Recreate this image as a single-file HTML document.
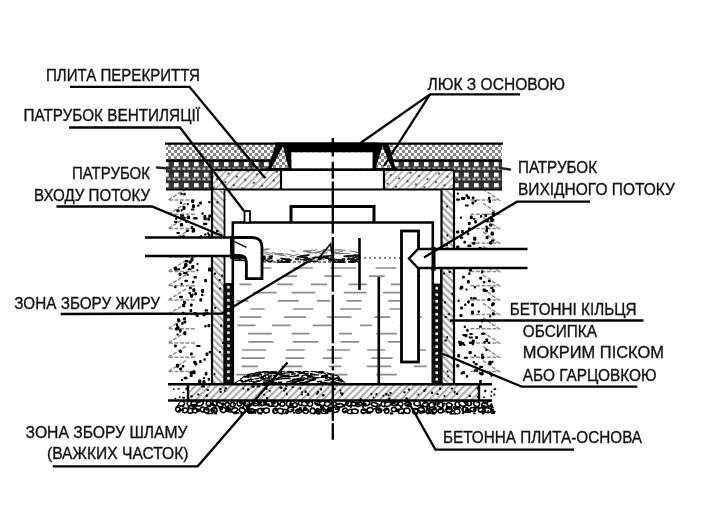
<!DOCTYPE html>
<html><head><meta charset="utf-8"><style>html,body{margin:0;padding:0;background:#fff;width:704px;height:528px;overflow:hidden}svg{display:block}text{filter:grayscale(1)}</style></head>
<body><svg width="704" height="528" viewBox="0 0 704 528"><defs>
<pattern id="chk" width="6" height="6" patternUnits="userSpaceOnUse">
 <rect width="6" height="6" fill="#fff"/><rect width="3" height="3" fill="#858585"/><rect x="3" y="3" width="3" height="3" fill="#858585"/>
</pattern>
<pattern id="hatchA" width="5" height="5" patternUnits="userSpaceOnUse" patternTransform="rotate(45)">
 <rect width="5" height="5" fill="#fff"/><rect width="1.6" height="5" fill="#a8a8a8"/>
</pattern>
<pattern id="hatchB" width="5" height="5" patternUnits="userSpaceOnUse" patternTransform="rotate(-45)">
 <rect width="5" height="5" fill="#fff"/><rect width="2.3" height="5" fill="#a8a8a8"/>
</pattern>
<pattern id="hatchC" width="5" height="5" patternUnits="userSpaceOnUse" patternTransform="rotate(45)">
 <rect width="5" height="5" fill="#fff"/><rect width="2.2" height="5" fill="#adadad"/>
</pattern>
<pattern id="dk" width="10" height="10.5" patternUnits="userSpaceOnUse" patternTransform="translate(2,160.3)">
 <rect width="10" height="10.5" fill="#383838"/><rect x="0" y="0" width="10" height="1.5" fill="#222"/><rect x="2" y="1.8" width="4.6" height="4.2" fill="#fff"/><rect x="0.5" y="7.2" width="3" height="2.4" fill="#bbb"/><rect x="5.5" y="7.2" width="3" height="2.4" fill="#bbb"/>
</pattern>
<pattern id="stripL" width="10" height="6.5" patternUnits="userSpaceOnUse" patternTransform="translate(0,284)">
 <rect width="10" height="6.5" fill="#111"/><rect x="7.2" y="2" width="2.5" height="2.5" fill="#fff"/>
</pattern>
<pattern id="stripR" width="10" height="6.5" patternUnits="userSpaceOnUse" patternTransform="translate(0,285)">
 <rect width="10" height="6.5" fill="#111"/><rect x="5.5" y="2" width="2.5" height="2.5" fill="#fff"/>
</pattern>
<pattern id="dotgrid" width="9" height="9" patternUnits="userSpaceOnUse" patternTransform="rotate(20)">
 <circle cx="4" cy="4" r="1" fill="#222"/>
</pattern>
</defs><rect width="704" height="528" fill="#fff"/><path d="M186.0 189.0L168.0 200.0L196.0 200.0M186.0 203.3L168.0 214.3L196.0 214.3M186.0 217.6L168.0 228.6L196.0 228.6M186.0 231.9L168.0 242.9L196.0 242.9M186.0 246.2L168.0 257.2L196.0 257.2M186.0 260.5L168.0 271.5L196.0 271.5M186.0 274.8L168.0 285.8L196.0 285.8M186.0 289.1L168.0 300.1L196.0 300.1M186.0 303.4L168.0 314.4L196.0 314.4M186.0 317.7L168.0 328.7L196.0 328.7M186.0 332.0L168.0 343.0L196.0 343.0M186.0 346.3L168.0 357.3L196.0 357.3M186.0 360.6L168.0 371.6L196.0 371.6" fill="none" stroke="#8c8c8c" stroke-width="1.5" stroke-dasharray="4 1.5"/><g fill="#000"><rect x="185.3" y="220.8" width="2.1" height="2.3" rx="0.7"/><rect x="186.8" y="203.1" width="2.1" height="2.2" rx="0.7"/><rect x="176.4" y="209.3" width="3.2" height="3.0" rx="1.0"/><rect x="181.8" y="311.8" width="2.8" height="3.0" rx="1.0"/><rect x="208.2" y="200.9" width="2.4" height="2.3" rx="0.8"/><rect x="178.1" y="250.9" width="2.3" height="2.6" rx="0.8"/><rect x="196.4" y="263.1" width="2.1" height="1.9" rx="0.7"/><rect x="181.2" y="322.0" width="2.4" height="2.8" rx="0.9"/><rect x="189.9" y="249.3" width="3.0" height="3.0" rx="1.0"/><rect x="194.1" y="292.3" width="3.0" height="3.1" rx="1.1"/><rect x="208.3" y="214.6" width="3.1" height="2.9" rx="1.0"/><rect x="191.1" y="199.5" width="3.1" height="3.5" rx="1.1"/><rect x="204.6" y="251.9" width="2.8" height="3.2" rx="1.0"/><rect x="190.0" y="352.4" width="2.7" height="3.1" rx="0.9"/><rect x="176.1" y="326.0" width="3.4" height="4.2" rx="1.2"/><rect x="184.0" y="265.7" width="2.0" height="2.2" rx="0.7"/><rect x="179.9" y="214.4" width="4.2" height="2.1" rx="0.7"/><rect x="182.7" y="266.7" width="2.1" height="2.3" rx="0.7"/><rect x="193.2" y="360.7" width="3.2" height="3.2" rx="1.1"/><rect x="188.5" y="260.5" width="3.3" height="3.2" rx="1.1"/><rect x="180.2" y="236.3" width="2.7" height="3.0" rx="0.9"/><rect x="183.2" y="192.8" width="2.5" height="2.8" rx="0.9"/><rect x="207.4" y="323.9" width="2.9" height="3.4" rx="1.0"/><rect x="175.9" y="363.8" width="3.2" height="3.9" rx="1.1"/><rect x="187.7" y="268.2" width="4.0" height="2.0" rx="0.7"/><rect x="176.4" y="231.9" width="3.5" height="2.0" rx="0.7"/><rect x="174.0" y="220.9" width="3.5" height="2.0" rx="0.7"/><rect x="204.6" y="309.3" width="3.4" height="2.2" rx="0.8"/><rect x="186.7" y="215.5" width="3.4" height="3.7" rx="1.2"/><rect x="190.9" y="208.4" width="3.5" height="2.2" rx="0.8"/><rect x="203.0" y="222.8" width="4.4" height="2.3" rx="0.8"/><rect x="179.1" y="295.7" width="3.8" height="2.6" rx="0.9"/><rect x="204.2" y="325.0" width="2.5" height="2.4" rx="0.9"/><rect x="201.0" y="293.7" width="2.5" height="2.4" rx="0.9"/><rect x="202.4" y="380.1" width="3.1" height="3.8" rx="1.1"/><rect x="199.9" y="235.3" width="2.5" height="2.3" rx="0.8"/><rect x="175.0" y="245.4" width="3.0" height="3.8" rx="1.0"/><rect x="189.7" y="371.0" width="3.3" height="3.5" rx="1.2"/><rect x="181.7" y="235.3" width="3.3" height="2.4" rx="0.8"/><rect x="205.5" y="352.5" width="2.9" height="3.6" rx="1.0"/><rect x="177.0" y="318.2" width="3.1" height="3.7" rx="1.1"/><rect x="190.7" y="226.1" width="2.5" height="3.0" rx="0.9"/><rect x="208.0" y="267.6" width="3.3" height="4.0" rx="1.2"/><rect x="180.0" y="216.3" width="4.4" height="2.5" rx="0.9"/><rect x="179.1" y="349.9" width="2.9" height="3.0" rx="1.0"/><rect x="193.2" y="217.0" width="4.5" height="2.4" rx="0.8"/><rect x="192.4" y="370.3" width="3.2" height="4.0" rx="1.1"/><rect x="181.4" y="240.1" width="2.3" height="2.7" rx="0.8"/><rect x="183.1" y="272.0" width="4.4" height="2.2" rx="0.8"/><rect x="190.0" y="303.4" width="2.6" height="3.3" rx="0.9"/><rect x="191.6" y="293.6" width="2.0" height="2.2" rx="0.7"/><rect x="180.4" y="192.8" width="2.2" height="2.4" rx="0.8"/><rect x="199.4" y="298.3" width="2.7" height="3.1" rx="1.0"/><rect x="201.4" y="212.3" width="2.3" height="2.4" rx="0.8"/><rect x="201.0" y="289.0" width="3.1" height="3.9" rx="1.1"/><rect x="189.5" y="309.0" width="2.7" height="3.2" rx="1.0"/><rect x="189.8" y="293.9" width="3.3" height="3.9" rx="1.2"/><rect x="204.7" y="372.0" width="2.8" height="3.6" rx="1.0"/><rect x="203.4" y="218.2" width="3.7" height="2.0" rx="0.7"/><rect x="182.4" y="206.0" width="3.1" height="3.9" rx="1.1"/><rect x="179.4" y="328.8" width="2.2" height="2.8" rx="0.8"/><rect x="207.9" y="233.9" width="2.6" height="2.8" rx="0.9"/><rect x="208.6" y="351.0" width="3.6" height="2.3" rx="0.8"/><rect x="185.9" y="229.4" width="3.0" height="2.7" rx="1.0"/><rect x="193.4" y="276.1" width="3.5" height="2.4" rx="0.8"/><rect x="191.9" y="204.3" width="3.1" height="4.0" rx="1.1"/><rect x="177.7" y="242.7" width="4.2" height="2.2" rx="0.8"/><rect x="178.5" y="272.7" width="3.1" height="3.2" rx="1.1"/><rect x="179.2" y="367.6" width="3.0" height="2.8" rx="1.0"/><rect x="176.0" y="323.4" width="2.1" height="2.7" rx="0.7"/><rect x="196.2" y="345.1" width="4.3" height="2.0" rx="0.7"/><rect x="204.2" y="278.7" width="2.8" height="3.5" rx="1.0"/><rect x="183.4" y="216.7" width="2.3" height="2.2" rx="0.8"/><rect x="179.7" y="201.6" width="2.4" height="2.5" rx="0.9"/><rect x="200.6" y="247.4" width="2.2" height="2.3" rx="0.8"/><rect x="174.6" y="239.8" width="4.1" height="2.3" rx="0.8"/><rect x="180.6" y="282.7" width="2.1" height="2.6" rx="0.8"/><rect x="189.1" y="286.5" width="2.6" height="2.8" rx="0.9"/><rect x="198.1" y="379.6" width="3.2" height="3.7" rx="1.1"/><rect x="196.3" y="269.3" width="2.1" height="2.0" rx="0.7"/><rect x="176.5" y="333.5" width="2.2" height="2.1" rx="0.7"/><rect x="203.4" y="358.3" width="2.4" height="2.4" rx="0.8"/><rect x="184.3" y="279.8" width="3.7" height="2.2" rx="0.8"/><rect x="207.7" y="377.8" width="2.3" height="3.0" rx="0.8"/><rect x="184.8" y="260.1" width="3.6" height="2.3" rx="0.8"/><rect x="191.6" y="230.4" width="2.0" height="2.0" rx="0.7"/><rect x="177.1" y="268.3" width="3.0" height="2.2" rx="0.8"/><rect x="182.1" y="303.8" width="3.1" height="3.5" rx="1.1"/><rect x="199.1" y="359.9" width="2.5" height="3.2" rx="0.9"/><rect x="179.2" y="330.3" width="2.1" height="2.5" rx="0.7"/><rect x="205.2" y="311.8" width="3.1" height="3.0" rx="1.0"/><rect x="192.3" y="288.3" width="3.1" height="3.8" rx="1.1"/><rect x="194.4" y="362.5" width="3.0" height="2.9" rx="1.0"/><rect x="175.1" y="217.4" width="2.1" height="2.6" rx="0.8"/><rect x="193.5" y="311.9" width="3.0" height="3.2" rx="1.0"/><rect x="174.1" y="344.4" width="2.7" height="3.0" rx="0.9"/><rect x="197.1" y="204.6" width="2.4" height="2.2" rx="0.8"/><rect x="183.3" y="331.3" width="3.0" height="3.9" rx="1.1"/><rect x="191.3" y="265.1" width="3.0" height="3.6" rx="1.0"/><rect x="195.6" y="314.8" width="3.2" height="2.2" rx="0.8"/><rect x="200.0" y="250.1" width="2.0" height="1.9" rx="0.7"/><rect x="183.4" y="320.4" width="2.9" height="3.0" rx="1.0"/><rect x="192.1" y="280.8" width="2.2" height="2.7" rx="0.8"/><rect x="181.0" y="378.8" width="2.0" height="2.2" rx="0.7"/><rect x="202.7" y="376.9" width="2.4" height="2.3" rx="0.8"/><rect x="207.1" y="232.2" width="2.2" height="2.4" rx="0.8"/><rect x="207.3" y="217.3" width="2.7" height="3.4" rx="0.9"/><rect x="198.6" y="236.2" width="2.7" height="2.4" rx="0.9"/><rect x="174.1" y="285.9" width="2.4" height="2.3" rx="0.8"/><rect x="186.0" y="252.4" width="2.0" height="2.4" rx="0.7"/><rect x="203.4" y="214.9" width="3.0" height="3.8" rx="1.0"/><rect x="184.1" y="263.1" width="3.4" height="3.9" rx="1.2"/><rect x="186.6" y="273.8" width="2.1" height="1.9" rx="0.7"/><rect x="203.2" y="246.6" width="2.3" height="2.4" rx="0.8"/><rect x="191.9" y="228.3" width="3.3" height="4.2" rx="1.2"/><rect x="202.4" y="312.5" width="3.3" height="3.7" rx="1.2"/><rect x="199.2" y="201.4" width="2.6" height="3.2" rx="0.9"/><rect x="196.6" y="246.7" width="4.4" height="2.1" rx="0.7"/><rect x="190.5" y="257.6" width="3.0" height="3.9" rx="1.1"/><rect x="183.1" y="317.3" width="2.8" height="2.9" rx="1.0"/><rect x="179.9" y="222.9" width="3.3" height="3.6" rx="1.1"/><rect x="181.7" y="365.1" width="2.6" height="2.5" rx="0.9"/><rect x="180.7" y="209.3" width="2.1" height="2.1" rx="0.7"/><rect x="183.0" y="300.8" width="3.0" height="3.2" rx="1.1"/><rect x="188.5" y="292.1" width="2.5" height="2.3" rx="0.8"/><rect x="183.7" y="376.8" width="3.8" height="2.4" rx="0.8"/><rect x="204.2" y="233.2" width="2.3" height="2.5" rx="0.8"/><rect x="189.6" y="374.2" width="3.2" height="2.9" rx="1.0"/><rect x="175.1" y="327.5" width="2.7" height="3.0" rx="0.9"/><rect x="174.0" y="266.8" width="3.2" height="3.9" rx="1.1"/></g><path d="M483.0 189.0L499.0 200.0L469.0 200.0M483.0 203.3L499.0 214.3L469.0 214.3M483.0 217.6L499.0 228.6L469.0 228.6M483.0 231.9L499.0 242.9L469.0 242.9M483.0 246.2L499.0 257.2L469.0 257.2M483.0 260.5L499.0 271.5L469.0 271.5M483.0 274.8L499.0 285.8L469.0 285.8M483.0 289.1L499.0 300.1L469.0 300.1M483.0 303.4L499.0 314.4L469.0 314.4M483.0 317.7L499.0 328.7L469.0 328.7M483.0 332.0L499.0 343.0L469.0 343.0M483.0 346.3L499.0 357.3L469.0 357.3M483.0 360.6L499.0 371.6L469.0 371.6" fill="none" stroke="#8c8c8c" stroke-width="1.5" stroke-dasharray="4 1.5"/><g fill="#000"><rect x="491.0" y="239.5" width="3.2" height="2.3" rx="0.8"/><rect x="480.6" y="371.8" width="2.9" height="3.5" rx="1.0"/><rect x="472.5" y="297.3" width="4.2" height="2.1" rx="0.7"/><rect x="489.1" y="315.3" width="2.2" height="2.2" rx="0.8"/><rect x="478.9" y="325.4" width="3.1" height="2.3" rx="0.8"/><rect x="477.0" y="266.1" width="2.8" height="2.6" rx="0.9"/><rect x="466.9" y="280.0" width="2.9" height="3.6" rx="1.0"/><rect x="473.1" y="236.8" width="3.3" height="4.0" rx="1.2"/><rect x="467.1" y="196.2" width="2.9" height="3.1" rx="1.0"/><rect x="465.3" y="319.5" width="2.3" height="2.1" rx="0.7"/><rect x="468.2" y="272.3" width="2.3" height="2.8" rx="0.8"/><rect x="482.6" y="288.4" width="3.4" height="3.4" rx="1.2"/><rect x="485.5" y="236.1" width="3.1" height="3.1" rx="1.1"/><rect x="490.3" y="286.7" width="3.3" height="2.3" rx="0.8"/><rect x="480.0" y="373.2" width="3.6" height="2.1" rx="0.7"/><rect x="491.1" y="219.1" width="3.1" height="2.2" rx="0.8"/><rect x="488.3" y="360.8" width="3.4" height="4.3" rx="1.2"/><rect x="467.9" y="227.4" width="3.0" height="2.8" rx="1.0"/><rect x="479.9" y="264.3" width="2.5" height="2.4" rx="0.8"/><rect x="456.1" y="245.4" width="3.3" height="3.2" rx="1.1"/><rect x="490.7" y="231.6" width="3.2" height="3.9" rx="1.1"/><rect x="471.6" y="201.4" width="2.5" height="3.2" rx="0.9"/><rect x="462.9" y="261.6" width="2.0" height="2.2" rx="0.7"/><rect x="485.2" y="338.4" width="3.1" height="2.0" rx="0.7"/><rect x="489.1" y="241.1" width="3.3" height="3.4" rx="1.1"/><rect x="465.8" y="374.9" width="2.4" height="2.8" rx="0.8"/><rect x="467.4" y="244.6" width="4.1" height="2.5" rx="0.9"/><rect x="478.8" y="372.2" width="3.4" height="2.3" rx="0.8"/><rect x="490.4" y="374.2" width="2.4" height="2.5" rx="0.8"/><rect x="473.8" y="369.3" width="4.2" height="2.4" rx="0.9"/><rect x="485.6" y="339.6" width="2.5" height="2.5" rx="0.9"/><rect x="469.0" y="341.4" width="3.3" height="2.5" rx="0.9"/><rect x="464.9" y="204.4" width="3.8" height="2.2" rx="0.8"/><rect x="491.3" y="360.7" width="2.4" height="2.2" rx="0.8"/><rect x="459.5" y="287.2" width="2.6" height="2.6" rx="0.9"/><rect x="471.0" y="310.5" width="3.0" height="3.8" rx="1.1"/><rect x="479.9" y="215.1" width="2.4" height="2.7" rx="0.8"/><rect x="469.4" y="333.0" width="3.4" height="2.1" rx="0.8"/><rect x="461.5" y="360.9" width="2.5" height="2.6" rx="0.9"/><rect x="491.7" y="288.9" width="3.1" height="3.6" rx="1.1"/><rect x="491.7" y="211.5" width="3.1" height="3.9" rx="1.1"/><rect x="488.9" y="199.7" width="2.2" height="2.1" rx="0.7"/><rect x="491.0" y="303.4" width="2.5" height="3.1" rx="0.9"/><rect x="472.2" y="241.7" width="3.3" height="3.1" rx="1.1"/><rect x="477.5" y="310.4" width="2.5" height="2.4" rx="0.8"/><rect x="463.3" y="240.7" width="2.9" height="2.9" rx="1.0"/><rect x="456.4" y="254.5" width="2.3" height="2.3" rx="0.8"/><rect x="463.3" y="343.9" width="2.1" height="2.0" rx="0.7"/><rect x="470.2" y="297.1" width="2.1" height="2.1" rx="0.7"/><rect x="481.0" y="270.3" width="2.4" height="3.1" rx="0.9"/><rect x="467.2" y="300.2" width="2.6" height="3.2" rx="0.9"/><rect x="491.9" y="261.5" width="4.1" height="2.1" rx="0.7"/><rect x="456.2" y="364.2" width="3.1" height="3.3" rx="1.1"/><rect x="487.8" y="280.0" width="3.0" height="2.3" rx="0.8"/><rect x="479.1" y="365.8" width="3.9" height="2.2" rx="0.8"/><rect x="474.2" y="219.9" width="2.7" height="3.5" rx="1.0"/><rect x="459.9" y="285.7" width="3.4" height="3.3" rx="1.1"/><rect x="460.6" y="372.1" width="2.7" height="2.5" rx="0.9"/><rect x="489.3" y="266.1" width="2.9" height="3.5" rx="1.0"/><rect x="461.8" y="342.1" width="2.6" height="3.2" rx="0.9"/><rect x="485.9" y="226.9" width="2.6" height="2.8" rx="0.9"/><rect x="469.8" y="215.5" width="3.0" height="3.8" rx="1.1"/><rect x="457.5" y="299.4" width="2.1" height="2.5" rx="0.7"/><rect x="460.2" y="306.5" width="2.9" height="2.9" rx="1.0"/><rect x="471.1" y="303.3" width="2.9" height="3.2" rx="1.0"/><rect x="471.8" y="196.5" width="2.7" height="2.7" rx="0.9"/><rect x="483.5" y="341.0" width="2.3" height="2.5" rx="0.8"/><rect x="459.9" y="216.5" width="2.1" height="2.3" rx="0.7"/><rect x="474.4" y="199.8" width="2.1" height="2.5" rx="0.7"/><rect x="484.0" y="289.7" width="3.8" height="2.2" rx="0.8"/><rect x="490.2" y="218.0" width="3.4" height="4.0" rx="1.2"/><rect x="485.3" y="229.0" width="2.7" height="3.4" rx="0.9"/><rect x="489.0" y="223.5" width="3.3" height="3.1" rx="1.1"/><rect x="468.6" y="336.4" width="4.3" height="2.2" rx="0.8"/><rect x="485.4" y="219.4" width="3.3" height="3.2" rx="1.1"/><rect x="465.5" y="288.6" width="2.1" height="2.0" rx="0.7"/><rect x="461.8" y="370.9" width="3.3" height="3.1" rx="1.1"/><rect x="484.3" y="214.0" width="2.9" height="3.0" rx="1.0"/><rect x="487.4" y="298.0" width="3.2" height="3.0" rx="1.1"/><rect x="491.7" y="312.3" width="3.1" height="3.1" rx="1.1"/><rect x="491.7" y="302.3" width="3.1" height="3.3" rx="1.1"/><rect x="462.4" y="334.0" width="4.2" height="2.2" rx="0.8"/><rect x="479.0" y="380.0" width="2.9" height="3.0" rx="1.0"/><rect x="456.1" y="198.5" width="3.9" height="2.3" rx="0.8"/><rect x="474.5" y="363.0" width="3.3" height="2.4" rx="0.8"/><rect x="456.8" y="192.5" width="2.1" height="2.2" rx="0.8"/><rect x="464.1" y="303.5" width="2.3" height="2.6" rx="0.8"/><rect x="473.1" y="217.7" width="2.3" height="2.2" rx="0.8"/><rect x="459.4" y="313.9" width="3.1" height="3.3" rx="1.1"/><rect x="465.5" y="194.2" width="2.8" height="2.9" rx="1.0"/><rect x="479.2" y="276.8" width="3.0" height="3.0" rx="1.1"/><rect x="488.5" y="200.4" width="2.6" height="2.6" rx="0.9"/><rect x="458.1" y="340.8" width="3.8" height="2.6" rx="0.9"/><rect x="461.1" y="230.1" width="2.7" height="3.1" rx="0.9"/><rect x="485.3" y="225.4" width="2.4" height="2.2" rx="0.8"/><rect x="488.0" y="341.5" width="2.0" height="2.5" rx="0.7"/><rect x="482.8" y="280.9" width="2.6" height="2.6" rx="0.9"/><rect x="459.8" y="236.4" width="3.5" height="2.4" rx="0.9"/><rect x="481.0" y="353.5" width="2.4" height="2.7" rx="0.8"/><rect x="471.7" y="342.6" width="2.4" height="2.7" rx="0.8"/><rect x="490.7" y="233.4" width="2.0" height="2.0" rx="0.7"/><rect x="464.5" y="334.1" width="3.0" height="3.1" rx="1.1"/><rect x="487.7" y="254.8" width="3.3" height="3.8" rx="1.1"/><rect x="480.9" y="319.1" width="2.7" height="3.3" rx="0.9"/><rect x="481.1" y="355.8" width="3.0" height="3.4" rx="1.1"/><rect x="467.1" y="232.5" width="2.1" height="2.7" rx="0.7"/><rect x="461.2" y="197.1" width="4.4" height="2.2" rx="0.8"/><rect x="461.1" y="197.5" width="4.0" height="2.4" rx="0.8"/><rect x="481.1" y="332.7" width="3.9" height="2.2" rx="0.8"/><rect x="485.4" y="348.5" width="2.1" height="2.6" rx="0.7"/><rect x="488.9" y="372.4" width="3.3" height="2.1" rx="0.7"/><rect x="457.2" y="353.9" width="2.9" height="3.6" rx="1.0"/><rect x="478.7" y="246.9" width="3.1" height="2.5" rx="0.9"/><rect x="463.4" y="253.0" width="2.0" height="2.0" rx="0.7"/><rect x="466.2" y="328.7" width="2.4" height="3.1" rx="0.9"/><rect x="474.1" y="354.6" width="2.0" height="2.2" rx="0.7"/><rect x="471.7" y="339.6" width="3.0" height="3.3" rx="1.0"/><rect x="463.8" y="356.7" width="4.2" height="2.1" rx="0.7"/><rect x="456.0" y="230.6" width="3.4" height="3.0" rx="1.1"/><rect x="473.7" y="285.9" width="2.3" height="2.5" rx="0.8"/><rect x="468.5" y="350.9" width="3.3" height="3.4" rx="1.2"/><rect x="463.7" y="325.6" width="2.2" height="2.5" rx="0.8"/><rect x="458.9" y="342.5" width="3.1" height="3.6" rx="1.1"/><rect x="468.8" y="268.6" width="3.2" height="3.0" rx="1.1"/><rect x="488.0" y="196.8" width="2.4" height="3.0" rx="0.8"/><rect x="474.0" y="264.4" width="2.3" height="2.5" rx="0.8"/><rect x="475.1" y="336.1" width="2.9" height="3.0" rx="1.0"/><rect x="467.8" y="221.7" width="2.9" height="3.5" rx="1.0"/><rect x="462.1" y="275.8" width="2.8" height="2.7" rx="0.9"/><rect x="472.6" y="361.1" width="2.3" height="2.3" rx="0.8"/></g><rect x="166" y="144" width="336" height="16" fill="url(#chk)"/><rect x="166" y="160" width="336" height="30" fill="url(#dk)"/><rect x="212" y="170" width="69" height="20" fill="url(#hatchA)"/><rect x="384" y="170" width="70" height="20" fill="url(#hatchA)"/><rect x="212" y="170" width="69" height="20" fill="url(#dotgrid)"/><rect x="384" y="170" width="70" height="20" fill="url(#dotgrid)"/><rect x="281" y="170" width="103" height="20" fill="#fff"/><g fill="none" stroke="#000" stroke-width="2.2"><line x1="165" y1="143.6" x2="503" y2="143.6"/><line x1="166" y1="160.3" x2="502" y2="160.3"/><line x1="212" y1="169.8" x2="454" y2="169.8"/><line x1="166" y1="189.5" x2="502" y2="189.5"/><line x1="281" y1="170" x2="281" y2="190"/><line x1="384" y1="170" x2="384" y2="190"/><line x1="212" y1="170" x2="212" y2="190"/><line x1="454" y1="170" x2="454" y2="190"/></g><path d="M157 167.5 L170 168.5 M500 168 L510 169.5" stroke="#222" stroke-width="2.6" stroke-linecap="round"/><path d="M276 143 L291.5 143 L291.5 170 L267.5 170 Z" fill="#000"/><path d="M372.5 143 L388.5 143 L396 170 L372 170 Z" fill="#000"/><rect x="275" y="142.5" width="103" height="10" fill="#000"/><path d="M283 146 L288.5 168 L271.5 168 Z" fill="url(#chk)"/><path d="M382.5 146 L391.5 168 L375.8 168 Z" fill="url(#chk)"/><rect x="291.5" y="152.5" width="81" height="16" fill="#fff"/><rect x="262" y="168.5" width="136" height="2.2" fill="#000"/><rect x="212" y="190" width="12" height="194" fill="url(#hatchB)"/><rect x="441.5" y="190" width="12.5" height="194" fill="url(#hatchB)"/><g fill="#000"><rect x="219.3" y="351.1" width="1.7" height="1.7" rx="0.6"/><rect x="215.2" y="255.4" width="2.0" height="1.7" rx="0.6"/><rect x="216.0" y="230.0" width="2.5" height="2.2" rx="0.8"/><rect x="213.9" y="373.0" width="1.6" height="1.9" rx="0.6"/><rect x="221.9" y="342.1" width="2.2" height="1.9" rx="0.7"/><rect x="214.8" y="313.0" width="1.6" height="1.7" rx="0.6"/><rect x="216.5" y="201.3" width="1.9" height="2.3" rx="0.7"/><rect x="219.2" y="287.6" width="2.1" height="2.0" rx="0.7"/><rect x="214.3" y="306.7" width="1.9" height="2.2" rx="0.7"/><rect x="221.2" y="274.6" width="2.1" height="2.2" rx="0.7"/><rect x="216.8" y="237.3" width="2.2" height="2.4" rx="0.8"/><rect x="220.0" y="324.5" width="2.4" height="2.2" rx="0.8"/><rect x="218.8" y="279.0" width="1.8" height="2.1" rx="0.6"/><rect x="213.9" y="272.6" width="2.3" height="2.2" rx="0.8"/></g><g fill="#000"><rect x="448.7" y="241.3" width="1.9" height="2.0" rx="0.7"/><rect x="448.6" y="270.7" width="2.2" height="2.4" rx="0.8"/><rect x="444.6" y="316.1" width="2.3" height="1.9" rx="0.7"/><rect x="447.4" y="375.3" width="1.5" height="2.0" rx="0.5"/><rect x="444.4" y="339.6" width="2.4" height="2.0" rx="0.7"/><rect x="443.9" y="301.3" width="2.0" height="2.2" rx="0.7"/><rect x="447.6" y="313.3" width="2.3" height="2.0" rx="0.7"/><rect x="446.7" y="370.4" width="1.7" height="2.2" rx="0.6"/><rect x="446.5" y="336.1" width="1.6" height="2.5" rx="0.6"/><rect x="446.2" y="205.5" width="1.8" height="1.9" rx="0.6"/><rect x="443.1" y="272.4" width="1.9" height="2.2" rx="0.7"/><rect x="446.2" y="244.1" width="1.7" height="2.2" rx="0.6"/><rect x="451.5" y="292.5" width="1.7" height="2.3" rx="0.6"/><rect x="446.5" y="234.2" width="1.6" height="2.3" rx="0.6"/></g><g fill="none" stroke="#000" stroke-width="2.2"><line x1="212" y1="190" x2="212" y2="384"/><line x1="441.5" y1="190" x2="441.5" y2="384"/><line x1="454" y1="190" x2="454" y2="384"/></g><rect x="223.5" y="284" width="10" height="100" fill="url(#stripL)"/><rect x="432" y="285" width="9.5" height="99" fill="url(#stripR)"/><g fill="none" stroke="#000" stroke-width="1.8"><line x1="224.5" y1="190" x2="224.5" y2="384"/><line x1="433" y1="270" x2="433" y2="384"/><line x1="441" y1="270" x2="441" y2="384"/><line x1="432" y1="284.5" x2="441" y2="284.5"/><line x1="224" y1="284" x2="233" y2="284"/></g><path d="M232.8 384 L232.8 222.5 L432.8 222.5 L432.8 384" fill="none" stroke="#000" stroke-width="2.6"/><path d="M291 222 L291 206.5 L374 206.5 L374 222" fill="none" stroke="#000" stroke-width="3"/><rect x="244.5" y="211" width="5.5" height="11.5" fill="#fff" stroke="#000" stroke-width="1.8"/><path d="M250.6 268.0h20.9M293.0 268.0h19.9M330.4 268.0h25.5M375.6 268.0h20.9M244.4 276.2h16.1M283.3 276.2h13.8M324.4 276.2h17.0M369.0 276.2h15.7M404.8 276.2h15.5M239.3 284.4h12.0M276.9 284.4h15.9M310.8 284.4h16.2M348.7 284.4h18.0M390.9 284.4h21.2M252.7 292.6h24.0M291.6 292.6h23.6M343.7 292.6h23.0M382.9 292.6h23.6M236.3 300.8h12.2M277.7 300.8h21.2M316.8 300.8h13.4M346.5 300.8h15.3M388.2 300.8h16.9M250.3 309.0h14.4M292.9 309.0h20.5M339.9 309.0h21.4M389.5 309.0h23.0M239.6 317.2h21.7M283.7 317.2h22.4M327.1 317.2h24.4M374.4 317.2h15.7M407.8 317.2h14.0M237.1 325.4h18.5M271.9 325.4h18.9M312.8 325.4h19.6M360.1 325.4h12.1M399.7 325.4h18.6M248.0 333.6h23.8M291.7 333.6h17.9M339.0 333.6h13.1M376.2 333.6h20.9M248.3 341.8h25.0M292.6 341.8h25.7M340.5 341.8h18.8M387.7 341.8h12.5M242.1 350.0h24.1M286.0 350.0h18.6M327.1 350.0h22.8M367.2 350.0h18.1M406.1 350.0h19.8M241.3 358.2h23.6M285.3 358.2h19.1M322.7 358.2h19.1M371.4 358.2h21.2M241.7 366.4h16.2M281.3 366.4h20.9M328.7 366.4h12.6M366.8 366.4h24.4M414.0 366.4h12.7M236.1 374.6h14.7M279.5 374.6h20.5M324.6 374.6h23.0M376.2 374.6h20.6" stroke="#8c8c8c" stroke-width="1.7" fill="none"/><clipPath id="scumc"><rect x="234" y="248.5" width="125" height="14.5"/></clipPath><rect x="262" y="249" width="97" height="13" fill="#fff"/><g clip-path="url(#scumc)"><path d="M319.7 253.8l7.7 -1.3M316.0 252.7l8.1 -2.0M254.8 249.3l8.2 2.1M314.6 252.0l8.6 1.5M302.8 251.1l5.1 -0.2M272.1 252.4l7.2 1.9M238.9 253.5l3.2 -0.7M334.1 253.6l9.4 -0.3M233.8 252.1l6.9 1.9M355.6 252.8l5.7 -1.4M313.2 250.7l3.9 -1.2M232.6 254.5l3.7 1.1M243.1 256.0l3.7 -1.1M322.6 250.9l8.0 -1.5M238.3 255.2l7.8 1.7M323.9 249.7l7.3 0.9M290.0 256.5l4.6 1.3M322.4 249.1l3.1 0.3M335.0 249.6l5.1 0.7M252.9 255.9l6.2 -1.7M278.3 253.6l6.0 0.6M250.3 255.4l5.5 0.5M311.3 252.3l5.6 1.0M351.1 255.3l6.9 -0.9M239.6 256.8l7.8 1.5M273.8 253.8l9.6 1.9M307.7 251.5l5.8 1.4M279.5 254.5l7.0 1.7M333.7 251.3l3.0 -0.4M285.2 253.7l8.5 2.0M237.3 255.7l8.5 1.9M304.1 251.2l8.8 1.6M318.3 256.3l5.3 -1.3M301.8 255.4l4.4 0.7M349.4 250.9l7.2 0.8M290.6 250.7l4.7 0.7M331.7 252.7l3.6 0.7M329.3 250.9l6.9 1.7M343.5 253.2l6.3 0.3M255.8 250.5l4.2 0.5M277.7 253.5l5.8 0.1M250.8 249.4l10.0 -0.8M245.4 254.1l8.3 -1.7M307.2 251.8l6.4 -1.9M236.2 256.9l9.1 -0.1M303.5 251.1l8.4 -0.4M351.3 255.1l8.4 2.4M264.0 249.3l4.3 -0.8M242.5 249.4l6.7 1.5M289.7 256.6l9.1 -2.4M307.4 252.2l3.7 1.0M264.4 253.5l7.2 2.0M316.4 252.1l6.0 -1.2M353.7 256.9l4.4 -1.2M264.2 251.8l9.0 2.2M337.5 249.4l8.4 1.1M313.5 256.9l3.3 -0.7M327.1 256.5l7.7 -0.9M306.5 255.1l3.7 -0.4M264.4 250.0l6.2 -1.3M262.0 250.1l7.4 -2.2M322.4 250.6l3.1 0.8M259.8 256.5l8.8 2.1M249.6 252.6l3.6 0.9M338.1 254.0l6.1 -0.6M335.7 252.8l7.2 -1.6M259.9 249.5l8.0 0.3M250.2 256.0l4.9 -0.3M251.6 251.2l8.8 -0.9M253.1 252.9l5.1 1.3" fill="none" stroke="#777" stroke-width="1.0"/><path d="M246.4 262.9l3.4 0.5M316.2 257.5l6.3 -0.5M264.5 257.4l5.4 1.1M357.8 262.5l3.7 -0.3M344.9 256.4l8.1 -0.7M355.3 256.1l8.6 -0.6M249.7 256.0l8.8 0.1M255.4 259.0l9.3 -1.1M304.0 257.0l4.2 0.5M321.7 257.4l3.5 -0.6M308.7 259.5l4.9 -0.6M309.2 261.0l8.7 0.3M257.5 256.5l8.1 -0.3M322.9 256.4l8.7 -0.6M338.1 262.1l6.3 -1.2M346.7 259.3l9.1 -0.8M255.4 261.8l5.5 -0.7M278.8 260.2l3.0 0.0M288.2 259.6l3.8 0.3M334.9 262.1l5.2 0.4M280.1 261.3l3.4 0.5M352.2 259.5l6.6 0.1M299.7 256.1l9.7 -1.1M255.0 256.7l4.7 0.6M235.8 256.7l7.8 -1.0M234.2 260.2l7.0 0.1M320.5 256.7l9.1 0.8M237.7 256.9l6.5 0.0M267.2 256.9l5.8 -0.8M306.6 262.0l4.0 0.1M326.1 257.2l8.6 1.5M281.0 258.9l8.9 0.1M281.8 262.6l8.4 -0.5M262.3 258.3l5.9 1.2M333.4 262.4l8.6 1.2M238.7 259.6l9.6 1.7M263.4 259.0l7.4 -0.4M298.9 256.5l6.0 0.0M234.6 257.0l9.7 1.1M350.1 260.4l8.6 1.3M343.5 256.2l7.5 -0.7M317.5 257.9l6.7 1.1M310.3 257.8l6.6 -0.2M351.8 258.0l5.1 0.3M247.2 260.2l9.7 0.1M265.8 259.3l6.7 -0.9M247.6 256.9l5.1 -0.2M268.3 257.7l3.6 0.1M337.8 260.3l7.0 0.4M257.4 261.0l6.2 0.1M309.2 259.3l5.1 -0.5M259.9 259.6l5.7 0.2M233.5 258.5l9.0 -0.9M302.1 259.4l4.9 1.0M269.2 261.4l4.0 -0.7M341.8 259.1l3.4 -0.2M287.4 261.1l3.7 -0.4M352.9 261.2l4.1 -0.3M276.4 260.7l7.2 1.0M335.5 259.6l8.1 0.8M327.7 259.3l8.5 0.7M347.3 256.9l8.9 -1.8M328.5 260.1l6.4 1.2M304.1 258.9l8.4 1.3M308.5 258.7l6.2 -0.1M323.1 258.1l5.7 0.1M280.4 258.3l8.4 1.2M294.9 259.1l4.3 -0.3M250.3 260.0l7.0 -1.2M347.9 258.3l8.8 1.2M352.8 257.4l5.9 1.0M233.3 256.3l7.0 -0.0M348.0 261.4l6.6 1.3M297.2 259.6l7.8 -0.3M277.1 260.2l5.4 1.0M317.2 259.7l3.7 -0.2M282.5 259.9l6.9 1.1M353.5 259.4l6.1 0.3M357.5 258.4l6.7 0.8M253.5 258.2l9.8 1.3M296.6 256.8l9.2 0.7M335.4 262.9l9.2 -0.3M251.7 258.0l6.6 0.0M255.7 257.3l7.4 0.3M276.5 263.0l7.3 -1.4M283.8 261.5l5.1 0.4M232.5 258.1l8.9 0.3M316.2 257.4l6.5 0.1M265.5 260.5l6.6 1.3M304.4 258.9l3.8 -0.5" fill="none" stroke="#111" stroke-width="1.6"/><g fill="#fff"><rect x="328.7" y="256.6" width="1.2" height="1.1" rx="0.4"/><rect x="299.7" y="260.9" width="1.9" height="1.4" rx="0.5"/><rect x="243.6" y="256.1" width="2.2" height="1.2" rx="0.4"/><rect x="323.3" y="258.1" width="1.3" height="1.1" rx="0.4"/><rect x="248.1" y="261.4" width="1.9" height="1.2" rx="0.4"/><rect x="290.9" y="258.3" width="1.1" height="1.4" rx="0.4"/><rect x="307.1" y="261.8" width="1.7" height="1.3" rx="0.5"/><rect x="266.4" y="256.3" width="2.4" height="1.4" rx="0.5"/><rect x="274.4" y="261.4" width="2.2" height="1.2" rx="0.4"/><rect x="309.5" y="261.8" width="1.7" height="1.5" rx="0.5"/><rect x="265.6" y="258.3" width="2.1" height="1.1" rx="0.4"/><rect x="273.7" y="261.3" width="1.7" height="1.4" rx="0.5"/><rect x="265.7" y="257.0" width="1.5" height="1.1" rx="0.4"/><rect x="354.5" y="257.7" width="1.8" height="1.1" rx="0.4"/><rect x="301.1" y="258.3" width="1.6" height="1.0" rx="0.4"/><rect x="251.0" y="261.0" width="1.5" height="1.1" rx="0.4"/><rect x="259.3" y="257.7" width="1.4" height="1.0" rx="0.4"/><rect x="317.0" y="258.0" width="1.2" height="1.4" rx="0.4"/><rect x="247.3" y="257.6" width="2.3" height="1.1" rx="0.4"/><rect x="290.1" y="261.0" width="2.2" height="1.1" rx="0.4"/><rect x="279.1" y="260.3" width="1.6" height="1.5" rx="0.5"/><rect x="261.4" y="261.7" width="1.8" height="1.1" rx="0.4"/><rect x="291.2" y="256.8" width="2.1" height="1.1" rx="0.4"/><rect x="345.8" y="259.5" width="1.6" height="1.1" rx="0.4"/><rect x="310.2" y="257.3" width="2.3" height="1.1" rx="0.4"/><rect x="298.6" y="259.3" width="1.4" height="1.4" rx="0.5"/><rect x="282.9" y="259.9" width="1.9" height="1.2" rx="0.4"/><rect x="283.6" y="256.5" width="1.3" height="1.4" rx="0.4"/><rect x="275.2" y="260.0" width="1.2" height="1.3" rx="0.4"/><rect x="280.1" y="259.0" width="1.4" height="1.0" rx="0.4"/></g></g><line x1="263" y1="262" x2="359" y2="262" stroke="#000" stroke-width="1.2" stroke-dasharray="3 2"/><path d="M318 259 L330.5 244 L333 259" fill="none" stroke="#000" stroke-width="1.5"/><line x1="359" y1="258" x2="432" y2="258" stroke="#000" stroke-width="1.2" stroke-dasharray="2 3"/><clipPath id="sludc"><path d="M234 384 L246 375 L262 371.5 L322 371.5 L338 376 L346 384 Z"/></clipPath><path d="M234 384 L246 375 L262 371.5 L322 371.5 L338 376 L346 384 Z" fill="#fff"/><g clip-path="url(#sludc)"><path d="M264.1 373.9l5.0 0.6M260.8 376.2l11.1 1.9M330.4 382.2l5.0 -0.7M231.4 379.8l9.3 -0.8M275.9 379.6l9.5 -1.4M326.2 375.6l8.9 -1.7M241.4 382.9l9.8 1.3M232.7 371.5l5.2 -1.0M263.2 375.9l4.3 -0.5M302.0 373.3l10.7 0.5M311.1 374.3l7.4 0.8M268.5 371.0l10.5 1.8M261.2 371.6l10.8 0.7M233.5 374.2l4.8 0.9M252.4 382.9l9.7 -2.5M308.6 376.1l9.8 2.0M260.6 372.2l11.6 -0.5M335.9 380.0l9.7 1.9M300.9 376.9l4.4 0.5M277.7 377.7l11.1 -2.5M316.4 371.6l9.5 1.8M258.3 378.1l11.7 1.0M291.1 374.2l4.5 -0.4M275.8 373.6l6.3 -1.4M310.0 379.7l5.8 -0.9M287.8 376.8l11.4 -1.0M262.7 382.5l5.1 0.2M266.7 381.6l8.3 1.3M247.6 379.7l8.8 -0.2M316.9 381.8l4.9 -0.6M269.8 373.7l4.4 -0.6M250.9 380.1l7.4 -1.7M265.6 377.1l6.8 -1.4M236.3 371.1l11.8 1.8M237.7 380.3l11.8 0.5M240.6 377.4l7.3 -1.4M291.0 371.1l11.3 1.0M300.8 383.2l9.1 -1.4M256.5 372.8l4.2 0.7M325.4 374.9l5.5 0.5M326.1 383.0l5.3 0.9M324.3 380.7l6.5 -1.2M323.7 375.2l6.9 0.2M270.8 381.8l5.7 -1.6M293.8 379.2l10.5 1.3M333.0 383.3l8.0 -0.0M246.3 374.9l8.4 -2.2M307.8 373.1l7.2 2.1M238.4 371.5l7.4 -1.4M311.9 371.0l10.5 2.3M319.3 376.5l6.2 0.6M287.7 376.5l6.7 -0.2M305.3 381.7l11.0 -2.2M262.3 376.8l8.5 -0.8M250.7 372.1l6.6 -0.2M340.7 382.8l10.5 3.1M339.6 379.1l10.1 -2.7M306.5 378.9l6.4 0.3M338.5 377.2l9.1 -1.1M267.8 382.5l4.1 -0.8M306.7 376.8l4.7 0.5M271.2 378.5l7.3 0.1M293.5 376.2l4.8 -0.9M331.2 378.1l4.8 1.1M257.4 372.2l8.2 -1.2M284.8 378.2l5.8 0.3M241.1 377.7l8.4 -2.2M275.3 372.0l7.3 1.6M291.9 380.3l9.8 -2.3M342.9 380.4l4.7 0.9M273.5 373.2l11.7 0.4M317.9 372.8l9.9 -2.7M255.5 375.8l4.1 0.2M252.7 374.9l9.6 -0.4M331.1 379.1l11.0 0.4M334.4 382.3l5.3 0.8M267.6 380.9l9.3 1.8M242.2 375.8l9.5 2.6M311.7 371.6l8.6 -2.1M291.7 381.4l4.7 1.2M306.3 374.3l5.5 -0.2M325.2 378.6l4.7 -1.4M240.8 381.4l5.5 0.2M261.6 379.9l6.9 -1.5M329.5 378.0l9.4 1.7M338.1 371.2l6.6 -1.4M286.2 382.3l10.0 -2.9M249.1 381.6l9.4 -0.6M283.2 373.1l10.7 -0.7M329.3 378.9l4.6 -0.5M253.1 382.6l8.4 -2.4M247.7 375.7l7.7 0.4M273.0 375.6l4.0 0.2M266.7 371.3l7.4 2.2M233.3 372.9l9.3 -1.3M259.7 377.5l6.1 0.3M289.3 383.4l11.5 -3.3M293.0 381.0l10.8 1.8M301.4 379.3l6.8 -0.9M320.3 382.3l11.4 1.2M263.3 380.9l9.9 0.1M301.7 375.6l8.4 -0.5M235.0 375.4l6.3 1.9M283.9 375.8l5.9 -0.9M268.5 372.8l4.0 0.9M280.6 376.8l8.5 -1.0M247.6 371.9l6.4 -0.7M312.3 378.2l11.4 -1.1M334.9 378.6l4.6 -0.9M295.3 383.8l6.8 1.1M277.7 382.3l4.5 -0.0M332.3 374.6l5.8 -1.7M247.1 374.5l9.5 -1.6M274.4 373.6l8.6 1.9M303.2 373.6l9.5 2.7M297.7 372.0l10.2 2.3M267.6 372.8l5.5 0.1M329.6 379.3l11.2 -2.0M265.9 380.7l9.2 -0.5M306.8 375.4l4.5 -0.2M233.3 379.1l6.7 -0.0M297.4 374.3l7.4 -2.2M335.3 378.3l11.5 -3.1M299.2 380.4l6.4 -1.6M246.1 372.9l9.8 -2.5M322.4 376.5l8.3 0.4M292.4 379.5l8.8 -0.9M314.0 374.4l9.6 1.5M318.0 375.0l9.8 2.9M280.6 374.6l7.9 2.1" fill="none" stroke="#000" stroke-width="1.4"/><g fill="#fff"><rect x="250.0" y="372.1" width="2.0" height="1.7" rx="0.6"/><rect x="318.1" y="376.0" width="3.0" height="1.2" rx="0.4"/><rect x="316.2" y="373.0" width="1.1" height="1.1" rx="0.4"/><rect x="242.4" y="377.5" width="2.1" height="1.2" rx="0.4"/><rect x="335.6" y="376.0" width="1.3" height="1.2" rx="0.4"/><rect x="314.2" y="382.1" width="1.3" height="1.0" rx="0.4"/><rect x="318.5" y="374.7" width="3.0" height="1.5" rx="0.5"/><rect x="303.4" y="375.8" width="2.6" height="1.5" rx="0.5"/><rect x="270.3" y="381.9" width="1.2" height="1.7" rx="0.4"/><rect x="242.9" y="379.1" width="1.8" height="1.9" rx="0.6"/><rect x="242.4" y="378.2" width="1.8" height="1.9" rx="0.6"/><rect x="336.2" y="378.9" width="1.4" height="1.3" rx="0.4"/><rect x="263.8" y="376.8" width="1.5" height="1.2" rx="0.4"/><rect x="316.5" y="379.1" width="1.6" height="2.0" rx="0.6"/><rect x="259.0" y="378.3" width="1.3" height="1.9" rx="0.5"/><rect x="328.1" y="374.9" width="2.5" height="1.8" rx="0.6"/><rect x="266.0" y="375.6" width="2.0" height="1.9" rx="0.7"/><rect x="253.1" y="379.5" width="2.2" height="1.5" rx="0.5"/><rect x="297.4" y="381.7" width="1.4" height="1.9" rx="0.5"/><rect x="274.2" y="380.6" width="2.7" height="1.2" rx="0.4"/><rect x="327.6" y="382.9" width="1.6" height="1.0" rx="0.4"/><rect x="247.8" y="382.7" width="1.0" height="1.9" rx="0.4"/><rect x="252.0" y="380.1" width="1.2" height="1.2" rx="0.4"/><rect x="308.4" y="373.0" width="1.7" height="1.9" rx="0.6"/><rect x="311.9" y="381.7" width="3.0" height="1.0" rx="0.4"/><rect x="260.9" y="380.7" width="2.4" height="1.0" rx="0.4"/><rect x="289.5" y="374.5" width="1.9" height="1.1" rx="0.4"/><rect x="238.1" y="382.9" width="1.6" height="1.9" rx="0.6"/><rect x="248.8" y="377.4" width="1.3" height="1.4" rx="0.4"/><rect x="255.0" y="379.5" width="1.3" height="1.7" rx="0.5"/></g></g><path d="M234 384 L246 375 L262 371.5 L322 371.5 L338 376 L346 384" fill="none" stroke="#000" stroke-width="1.1" stroke-dasharray="6 2"/><line x1="359.5" y1="238" x2="359.5" y2="290" stroke="#000" stroke-width="2.6"/><line x1="378.8" y1="277" x2="378.8" y2="384" stroke="#000" stroke-width="2.6"/><rect x="145" y="238" width="88" height="18" fill="#fff"/><g stroke="#000" stroke-width="2.4" fill="none"><line x1="145" y1="237.5" x2="233" y2="237.5"/><line x1="145" y1="256" x2="233" y2="256"/></g><path d="M234 237.5 L252 237.5 Q262 237.5 262 247.5 L262 278.6 L246.4 278.6 L246.4 262 Q246.4 255.5 239 255.5 L234 255.5" fill="#fff" stroke="#000" stroke-width="2.8"/><rect x="230" y="235.5" width="4.5" height="23.5" rx="1.5" fill="#000"/><line x1="234.5" y1="241.6" x2="246.4" y2="247.3" stroke="#000" stroke-width="1.4"/><rect x="401.5" y="231" width="17" height="131" fill="#fff" stroke="#000" stroke-width="2.8"/><path d="M527.5 249 L418 249 L409 258.5 L418 268 L527.5 268" fill="#fff" stroke="#000" stroke-width="2.4"/><rect x="431.5" y="247" width="4" height="24" fill="#000"/><rect x="188" y="385" width="291" height="15" fill="url(#hatchC)"/><g fill="#000"><rect x="333.7" y="388.2" width="2.0" height="2.1" rx="0.7"/><rect x="453.7" y="390.8" width="1.8" height="2.6" rx="0.6"/><rect x="443.5" y="395.0" width="1.9" height="1.8" rx="0.6"/><rect x="266.0" y="387.8" width="1.6" height="2.1" rx="0.6"/><rect x="307.1" y="393.1" width="2.0" height="1.6" rx="0.6"/><rect x="387.5" y="394.2" width="2.1" height="2.1" rx="0.8"/><rect x="388.1" y="397.8" width="2.5" height="2.3" rx="0.8"/><rect x="304.6" y="390.5" width="2.0" height="2.6" rx="0.7"/><rect x="301.1" y="391.2" width="2.0" height="1.7" rx="0.6"/><rect x="476.5" y="387.1" width="2.2" height="2.5" rx="0.8"/><rect x="263.1" y="393.7" width="2.0" height="1.8" rx="0.6"/><rect x="246.9" y="388.3" width="2.4" height="2.4" rx="0.8"/><rect x="450.7" y="387.5" width="2.3" height="1.9" rx="0.7"/><rect x="375.5" y="393.0" width="1.9" height="2.6" rx="0.7"/><rect x="190.3" y="395.2" width="2.5" height="2.1" rx="0.7"/><rect x="360.0" y="397.9" width="1.8" height="2.2" rx="0.6"/><rect x="403.3" y="391.2" width="2.3" height="2.0" rx="0.7"/><rect x="341.0" y="393.7" width="2.3" height="1.9" rx="0.7"/><rect x="370.5" y="393.0" width="1.8" height="2.2" rx="0.6"/><rect x="266.0" y="397.0" width="2.1" height="2.3" rx="0.7"/><rect x="339.8" y="392.2" width="1.8" height="1.7" rx="0.6"/><rect x="456.1" y="392.8" width="2.1" height="2.1" rx="0.7"/><rect x="423.4" y="389.6" width="1.8" height="2.4" rx="0.6"/><rect x="322.1" y="394.0" width="2.4" height="2.5" rx="0.8"/><rect x="439.1" y="387.5" width="2.0" height="2.4" rx="0.7"/><rect x="424.7" y="388.4" width="1.8" height="1.9" rx="0.6"/><rect x="219.5" y="390.9" width="2.4" height="2.1" rx="0.7"/><rect x="320.0" y="388.0" width="2.0" height="2.6" rx="0.7"/><rect x="389.5" y="391.9" width="2.1" height="2.4" rx="0.7"/><rect x="407.8" y="388.6" width="2.3" height="2.0" rx="0.7"/><rect x="339.4" y="389.6" width="2.0" height="1.9" rx="0.7"/><rect x="299.4" y="387.2" width="1.8" height="2.2" rx="0.6"/><rect x="206.6" y="389.0" width="2.3" height="1.9" rx="0.7"/><rect x="283.0" y="389.7" width="2.4" height="1.7" rx="0.6"/><rect x="372.6" y="396.4" width="1.8" height="2.0" rx="0.6"/><rect x="417.4" y="393.8" width="2.0" height="1.6" rx="0.6"/><rect x="317.0" y="391.0" width="2.3" height="1.9" rx="0.7"/><rect x="307.1" y="394.1" width="2.4" height="2.0" rx="0.7"/><rect x="300.6" y="393.4" width="2.5" height="1.8" rx="0.6"/><rect x="468.8" y="394.8" width="2.0" height="2.3" rx="0.7"/><rect x="284.6" y="387.8" width="2.4" height="2.0" rx="0.7"/><rect x="340.9" y="392.5" width="2.5" height="2.4" rx="0.8"/><rect x="197.3" y="393.5" width="2.1" height="2.1" rx="0.7"/><rect x="431.0" y="391.6" width="2.1" height="2.5" rx="0.7"/><rect x="316.2" y="392.4" width="2.1" height="2.4" rx="0.7"/><rect x="382.4" y="395.1" width="2.0" height="1.6" rx="0.6"/><rect x="385.1" y="393.1" width="2.4" height="2.4" rx="0.8"/><rect x="223.9" y="389.4" width="1.7" height="2.4" rx="0.6"/><rect x="219.2" y="388.0" width="2.4" height="2.2" rx="0.8"/><rect x="205.8" y="394.5" width="2.3" height="2.1" rx="0.7"/><rect x="205.7" y="394.6" width="2.0" height="2.2" rx="0.7"/><rect x="476.5" y="396.0" width="2.5" height="1.7" rx="0.6"/><rect x="286.0" y="392.7" width="1.6" height="2.6" rx="0.6"/><rect x="268.8" y="389.9" width="1.9" height="1.9" rx="0.6"/><rect x="436.5" y="393.1" width="2.1" height="2.0" rx="0.7"/></g><g fill="#000"><rect x="201.3" y="385.2" width="3.7" height="2.3" rx="0.8"/><rect x="285.1" y="385.0" width="2.4" height="1.6" rx="0.5"/><rect x="251.8" y="385.5" width="2.9" height="2.0" rx="0.7"/><rect x="256.7" y="385.5" width="3.6" height="1.7" rx="0.6"/><rect x="291.6" y="386.2" width="2.1" height="1.8" rx="0.6"/><rect x="251.4" y="385.6" width="3.1" height="1.8" rx="0.6"/><rect x="224.4" y="387.2" width="2.6" height="2.2" rx="0.8"/><rect x="279.5" y="386.4" width="2.9" height="2.4" rx="0.9"/><rect x="242.3" y="387.5" width="2.1" height="1.9" rx="0.7"/><rect x="262.5" y="384.2" width="3.7" height="1.6" rx="0.6"/></g><path d="M170 414.5 L181 400 L490 400 L497 414.5 Z" fill="#fff"/><clipPath id="gravc"><path d="M170 414.5 L181 400 L490 400 L497 414.5 Z"/></clipPath><g clip-path="url(#gravc)"><g fill="#fff" stroke="#000" stroke-width="1.6"><ellipse cx="175.8" cy="404.3" rx="2.4" ry="2.5" transform="rotate(18 175.8 404.2)"/><ellipse cx="181.6" cy="403.7" rx="3.0" ry="2.3" transform="rotate(-17 181.6 404.2)"/><ellipse cx="190.0" cy="403.5" rx="2.4" ry="2.5" transform="rotate(-24 190.0 404.2)"/><ellipse cx="194.1" cy="404.0" rx="3.1" ry="2.6" transform="rotate(10 194.1 404.2)"/><ellipse cx="200.4" cy="403.4" rx="3.3" ry="2.3" transform="rotate(-27 200.4 404.2)"/><ellipse cx="208.8" cy="403.7" rx="2.3" ry="2.5" transform="rotate(-16 208.8 404.2)"/><ellipse cx="214.6" cy="403.4" rx="2.6" ry="2.2" transform="rotate(25 214.6 404.2)"/><ellipse cx="220.1" cy="404.9" rx="3.2" ry="1.9" transform="rotate(29 220.1 404.2)"/><ellipse cx="227.1" cy="404.5" rx="2.2" ry="2.1" transform="rotate(-17 227.1 404.2)"/><ellipse cx="232.7" cy="404.7" rx="2.3" ry="2.2" transform="rotate(-4 232.7 404.2)"/><ellipse cx="239.1" cy="403.3" rx="2.3" ry="2.5" transform="rotate(25 239.1 404.2)"/><ellipse cx="246.7" cy="403.7" rx="3.3" ry="2.2" transform="rotate(-9 246.7 404.2)"/><ellipse cx="255.4" cy="403.2" rx="2.8" ry="2.5" transform="rotate(-1 255.4 404.2)"/><ellipse cx="263.4" cy="403.2" rx="2.9" ry="2.2" transform="rotate(-22 263.4 404.2)"/><ellipse cx="269.3" cy="403.5" rx="3.3" ry="2.5" transform="rotate(25 269.3 404.2)"/><ellipse cx="275.0" cy="403.8" rx="2.9" ry="2.6" transform="rotate(27 275.0 404.2)"/><ellipse cx="282.5" cy="404.1" rx="2.3" ry="2.1" transform="rotate(-15 282.5 404.2)"/><ellipse cx="289.0" cy="403.7" rx="2.4" ry="2.4" transform="rotate(-26 289.0 404.2)"/><ellipse cx="295.0" cy="404.9" rx="2.3" ry="2.2" transform="rotate(6 295.0 404.2)"/><ellipse cx="300.5" cy="403.2" rx="2.2" ry="2.2" transform="rotate(9 300.5 404.2)"/><ellipse cx="304.5" cy="403.9" rx="2.9" ry="2.1" transform="rotate(10 304.5 404.2)"/><ellipse cx="310.0" cy="403.8" rx="2.4" ry="2.6" transform="rotate(21 310.0 404.2)"/><ellipse cx="317.3" cy="403.2" rx="2.8" ry="1.9" transform="rotate(23 317.3 404.2)"/><ellipse cx="322.3" cy="403.3" rx="2.8" ry="2.2" transform="rotate(-2 322.3 404.2)"/><ellipse cx="327.5" cy="403.9" rx="2.8" ry="2.2" transform="rotate(-18 327.5 404.2)"/><ellipse cx="333.8" cy="403.6" rx="2.4" ry="1.9" transform="rotate(22 333.8 404.2)"/><ellipse cx="339.7" cy="405.3" rx="3.3" ry="1.8" transform="rotate(-1 339.7 404.2)"/><ellipse cx="348.4" cy="403.6" rx="2.9" ry="2.4" transform="rotate(15 348.4 404.2)"/><ellipse cx="353.8" cy="403.9" rx="2.5" ry="1.8" transform="rotate(1 353.8 404.2)"/><ellipse cx="359.0" cy="404.4" rx="3.3" ry="1.9" transform="rotate(-16 359.0 404.2)"/><ellipse cx="366.9" cy="403.1" rx="3.1" ry="2.4" transform="rotate(-15 366.9 404.2)"/><ellipse cx="374.6" cy="404.5" rx="3.4" ry="1.8" transform="rotate(12 374.6 404.2)"/><ellipse cx="383.6" cy="404.1" rx="2.6" ry="2.4" transform="rotate(25 383.6 404.2)"/><ellipse cx="387.9" cy="404.0" rx="3.3" ry="2.1" transform="rotate(-25 387.9 404.2)"/><ellipse cx="394.5" cy="403.4" rx="3.1" ry="2.3" transform="rotate(-9 394.5 404.2)"/><ellipse cx="400.3" cy="403.8" rx="2.4" ry="2.0" transform="rotate(29 400.3 404.2)"/><ellipse cx="408.1" cy="404.2" rx="3.1" ry="2.2" transform="rotate(17 408.1 404.2)"/><ellipse cx="417.0" cy="403.5" rx="3.1" ry="2.3" transform="rotate(8 417.0 404.2)"/><ellipse cx="425.6" cy="404.7" rx="3.1" ry="1.9" transform="rotate(-9 425.6 404.2)"/><ellipse cx="431.6" cy="404.8" rx="3.4" ry="2.3" transform="rotate(-22 431.6 404.2)"/><ellipse cx="440.6" cy="404.8" rx="3.3" ry="2.5" transform="rotate(20 440.6 404.2)"/><ellipse cx="449.5" cy="405.0" rx="2.9" ry="2.1" transform="rotate(17 449.5 404.2)"/><ellipse cx="457.8" cy="404.3" rx="2.6" ry="2.6" transform="rotate(27 457.8 404.2)"/><ellipse cx="462.3" cy="403.6" rx="3.4" ry="2.4" transform="rotate(20 462.3 404.2)"/><ellipse cx="469.0" cy="403.6" rx="2.4" ry="2.2" transform="rotate(-0 469.0 404.2)"/><ellipse cx="476.5" cy="403.9" rx="3.0" ry="2.4" transform="rotate(17 476.5 404.2)"/><ellipse cx="484.7" cy="405.0" rx="3.0" ry="2.6" transform="rotate(-6 484.7 404.2)"/><ellipse cx="490.1" cy="403.8" rx="3.0" ry="2.5" transform="rotate(6 490.1 404.2)"/><ellipse cx="178.4" cy="409.3" rx="2.2" ry="2.2" transform="rotate(-23 178.4 410.5)"/><ellipse cx="185.0" cy="410.4" rx="2.7" ry="2.3" transform="rotate(-10 185.0 410.5)"/><ellipse cx="190.3" cy="410.8" rx="2.6" ry="2.5" transform="rotate(-12 190.3 410.5)"/><ellipse cx="194.9" cy="410.4" rx="2.5" ry="2.4" transform="rotate(10 194.9 410.5)"/><ellipse cx="202.2" cy="409.4" rx="2.3" ry="2.3" transform="rotate(19 202.2 410.5)"/><ellipse cx="206.6" cy="410.2" rx="2.5" ry="2.6" transform="rotate(-17 206.6 410.5)"/><ellipse cx="214.2" cy="410.2" rx="2.9" ry="2.5" transform="rotate(-0 214.2 410.5)"/><ellipse cx="222.9" cy="409.8" rx="2.8" ry="2.6" transform="rotate(20 222.9 410.5)"/><ellipse cx="228.2" cy="409.7" rx="2.8" ry="1.8" transform="rotate(27 228.2 410.5)"/><ellipse cx="234.7" cy="410.1" rx="3.2" ry="2.0" transform="rotate(-24 234.7 410.5)"/><ellipse cx="242.2" cy="410.2" rx="3.2" ry="2.2" transform="rotate(26 242.2 410.5)"/><ellipse cx="251.2" cy="410.8" rx="3.0" ry="1.9" transform="rotate(-3 251.2 410.5)"/><ellipse cx="260.1" cy="410.8" rx="2.6" ry="2.3" transform="rotate(-7 260.1 410.5)"/><ellipse cx="266.4" cy="410.5" rx="3.0" ry="2.5" transform="rotate(-8 266.4 410.5)"/><ellipse cx="275.4" cy="410.9" rx="2.3" ry="2.5" transform="rotate(3 275.4 410.5)"/><ellipse cx="280.7" cy="411.0" rx="3.1" ry="2.5" transform="rotate(15 280.7 410.5)"/><ellipse cx="286.0" cy="411.6" rx="2.6" ry="1.9" transform="rotate(23 286.0 410.5)"/><ellipse cx="290.8" cy="409.4" rx="2.9" ry="2.3" transform="rotate(-6 290.8 410.5)"/><ellipse cx="298.6" cy="411.1" rx="3.0" ry="2.0" transform="rotate(-13 298.6 410.5)"/><ellipse cx="305.7" cy="410.9" rx="2.7" ry="2.6" transform="rotate(18 305.7 410.5)"/><ellipse cx="312.8" cy="411.0" rx="2.7" ry="2.6" transform="rotate(11 312.8 410.5)"/><ellipse cx="318.3" cy="411.3" rx="2.4" ry="2.3" transform="rotate(18 318.3 410.5)"/><ellipse cx="323.4" cy="411.4" rx="2.4" ry="2.2" transform="rotate(-20 323.4 410.5)"/><ellipse cx="330.1" cy="409.4" rx="2.4" ry="2.0" transform="rotate(-12 330.1 410.5)"/><ellipse cx="335.5" cy="409.7" rx="3.4" ry="2.6" transform="rotate(-11 335.5 410.5)"/><ellipse cx="345.0" cy="410.4" rx="2.4" ry="2.1" transform="rotate(-23 345.0 410.5)"/><ellipse cx="349.9" cy="411.6" rx="2.7" ry="2.1" transform="rotate(-14 349.9 410.5)"/><ellipse cx="355.0" cy="411.3" rx="3.3" ry="2.2" transform="rotate(8 355.0 410.5)"/><ellipse cx="363.7" cy="411.1" rx="2.6" ry="1.9" transform="rotate(-2 363.7 410.5)"/><ellipse cx="370.1" cy="410.0" rx="3.0" ry="2.4" transform="rotate(-8 370.1 410.5)"/><ellipse cx="378.8" cy="410.8" rx="2.8" ry="2.0" transform="rotate(-14 378.8 410.5)"/><ellipse cx="386.6" cy="410.7" rx="2.2" ry="2.5" transform="rotate(-9 386.6 410.5)"/><ellipse cx="393.8" cy="409.5" rx="2.5" ry="2.0" transform="rotate(3 393.8 410.5)"/><ellipse cx="400.9" cy="411.2" rx="3.0" ry="2.1" transform="rotate(-23 400.9 410.5)"/><ellipse cx="407.1" cy="410.8" rx="3.0" ry="2.6" transform="rotate(12 407.1 410.5)"/><ellipse cx="415.2" cy="411.1" rx="2.7" ry="2.6" transform="rotate(-9 415.2 410.5)"/><ellipse cx="421.1" cy="409.7" rx="3.2" ry="2.1" transform="rotate(22 421.1 410.5)"/><ellipse cx="428.5" cy="411.5" rx="2.8" ry="2.3" transform="rotate(-22 428.5 410.5)"/><ellipse cx="434.5" cy="410.5" rx="2.3" ry="2.1" transform="rotate(21 434.5 410.5)"/><ellipse cx="440.8" cy="410.7" rx="2.9" ry="2.1" transform="rotate(-14 440.8 410.5)"/><ellipse cx="448.9" cy="409.7" rx="3.1" ry="2.5" transform="rotate(10 448.9 410.5)"/><ellipse cx="457.3" cy="411.5" rx="2.8" ry="2.5" transform="rotate(15 457.3 410.5)"/><ellipse cx="465.1" cy="409.6" rx="3.0" ry="2.5" transform="rotate(12 465.1 410.5)"/><ellipse cx="472.9" cy="409.5" rx="2.9" ry="2.0" transform="rotate(6 472.9 410.5)"/><ellipse cx="481.1" cy="409.8" rx="2.5" ry="2.0" transform="rotate(-24 481.1 410.5)"/><ellipse cx="487.8" cy="410.2" rx="3.4" ry="2.4" transform="rotate(12 487.8 410.5)"/><ellipse cx="493.9" cy="409.3" rx="3.2" ry="2.1" transform="rotate(8 493.9 410.5)"/></g><g fill="#000"><rect x="263.5" y="401.7" width="3.1" height="2.5" rx="0.9"/><rect x="432.7" y="401.5" width="4.1" height="1.8" rx="0.6"/><rect x="247.4" y="408.6" width="2.9" height="2.1" rx="0.7"/><rect x="356.8" y="403.6" width="4.0" height="1.9" rx="0.7"/><rect x="442.9" y="410.7" width="3.3" height="1.6" rx="0.6"/><rect x="423.4" y="401.3" width="3.3" height="2.3" rx="0.8"/><rect x="196.1" y="408.6" width="3.8" height="2.5" rx="0.9"/><rect x="303.2" y="407.1" width="3.5" height="2.0" rx="0.7"/><rect x="451.9" y="412.9" width="4.0" height="3.1" rx="1.1"/><rect x="280.8" y="412.8" width="2.2" height="2.4" rx="0.8"/><rect x="218.5" y="406.4" width="3.7" height="2.7" rx="1.0"/><rect x="320.6" y="405.1" width="2.5" height="2.2" rx="0.8"/><rect x="265.9" y="403.3" width="3.8" height="2.4" rx="0.8"/><rect x="315.5" y="403.4" width="3.8" height="1.9" rx="0.7"/><rect x="260.5" y="407.7" width="3.8" height="3.2" rx="1.1"/><rect x="413.8" y="412.4" width="4.3" height="2.8" rx="1.0"/><rect x="404.8" y="401.8" width="2.5" height="1.6" rx="0.6"/><rect x="450.6" y="409.7" width="3.6" height="2.0" rx="0.7"/><rect x="289.0" y="403.0" width="3.6" height="3.2" rx="1.1"/><rect x="273.2" y="401.5" width="2.4" height="2.2" rx="0.8"/><rect x="461.9" y="410.7" width="3.1" height="1.8" rx="0.6"/><rect x="209.9" y="402.8" width="3.9" height="2.4" rx="0.8"/><rect x="491.0" y="411.9" width="4.0" height="2.4" rx="0.8"/><rect x="437.4" y="402.5" width="2.3" height="2.5" rx="0.8"/><rect x="337.5" y="403.5" width="2.6" height="1.6" rx="0.6"/><rect x="465.0" y="409.5" width="4.4" height="3.2" rx="1.1"/><rect x="314.9" y="409.8" width="3.0" height="2.9" rx="1.0"/><rect x="443.6" y="402.6" width="2.0" height="1.9" rx="0.7"/><rect x="362.1" y="405.5" width="2.0" height="2.9" rx="0.7"/><rect x="426.0" y="406.6" width="2.1" height="3.0" rx="0.7"/><rect x="345.9" y="401.9" width="2.8" height="2.6" rx="0.9"/><rect x="457.5" y="406.8" width="3.6" height="1.9" rx="0.7"/><rect x="253.4" y="411.9" width="3.0" height="1.8" rx="0.6"/><rect x="364.0" y="402.5" width="2.5" height="2.3" rx="0.8"/><rect x="362.2" y="408.6" width="3.8" height="2.3" rx="0.8"/><rect x="197.5" y="409.7" width="2.1" height="2.4" rx="0.7"/><rect x="303.3" y="409.1" width="3.8" height="2.0" rx="0.7"/><rect x="382.6" y="409.3" width="3.2" height="1.8" rx="0.6"/><rect x="465.1" y="408.2" width="2.2" height="2.0" rx="0.7"/><rect x="489.8" y="403.7" width="3.0" height="2.9" rx="1.0"/><rect x="438.0" y="408.6" width="3.9" height="1.7" rx="0.6"/><rect x="205.8" y="412.7" width="4.0" height="1.7" rx="0.6"/><rect x="191.5" y="403.9" width="4.3" height="2.0" rx="0.7"/><rect x="389.7" y="412.2" width="3.6" height="3.1" rx="1.1"/><rect x="259.6" y="402.8" width="2.0" height="2.8" rx="0.7"/><rect x="209.0" y="412.7" width="3.8" height="1.9" rx="0.7"/><rect x="432.6" y="403.0" width="3.3" height="1.8" rx="0.6"/><rect x="426.3" y="411.7" width="4.3" height="1.6" rx="0.6"/><rect x="446.7" y="407.7" width="4.1" height="2.4" rx="0.8"/><rect x="373.1" y="408.1" width="4.0" height="1.7" rx="0.6"/><rect x="193.2" y="407.5" width="2.7" height="2.2" rx="0.8"/><rect x="178.4" y="409.9" width="2.1" height="2.9" rx="0.7"/><rect x="434.1" y="406.5" width="2.3" height="2.6" rx="0.8"/><rect x="241.9" y="406.1" width="2.3" height="3.2" rx="0.8"/><rect x="349.7" y="405.2" width="2.2" height="2.8" rx="0.8"/><rect x="446.2" y="411.2" width="2.3" height="2.2" rx="0.8"/><rect x="272.3" y="410.1" width="2.4" height="2.6" rx="0.8"/><rect x="487.2" y="410.2" width="2.0" height="1.7" rx="0.6"/><rect x="212.1" y="409.3" width="3.5" height="2.4" rx="0.9"/><rect x="320.9" y="405.9" width="3.5" height="2.6" rx="0.9"/><rect x="467.4" y="409.8" width="4.0" height="3.1" rx="1.1"/><rect x="442.2" y="409.6" width="2.1" height="2.7" rx="0.7"/><rect x="446.3" y="406.2" width="4.2" height="1.9" rx="0.7"/><rect x="475.8" y="406.3" width="3.8" height="2.0" rx="0.7"/><rect x="271.6" y="405.2" width="2.8" height="1.8" rx="0.6"/><rect x="316.8" y="412.8" width="3.6" height="3.1" rx="1.1"/><rect x="418.4" y="411.0" width="4.5" height="2.8" rx="1.0"/><rect x="263.2" y="404.0" width="3.0" height="1.6" rx="0.6"/><rect x="249.4" y="411.6" width="4.3" height="2.1" rx="0.7"/><rect x="421.0" y="410.3" width="4.2" height="2.9" rx="1.0"/><rect x="345.2" y="402.3" width="4.1" height="2.1" rx="0.7"/><rect x="375.4" y="405.4" width="3.3" height="3.1" rx="1.1"/><rect x="227.2" y="407.4" width="3.6" height="2.5" rx="0.9"/><rect x="474.3" y="405.9" width="4.3" height="2.7" rx="0.9"/><rect x="483.6" y="402.1" width="2.5" height="2.1" rx="0.7"/><rect x="464.3" y="401.2" width="2.7" height="2.7" rx="0.9"/><rect x="490.7" y="403.1" width="3.1" height="2.7" rx="0.9"/><rect x="395.6" y="410.0" width="3.9" height="2.0" rx="0.7"/><rect x="257.8" y="401.3" width="3.7" height="1.9" rx="0.7"/><rect x="258.5" y="412.6" width="3.6" height="2.5" rx="0.9"/><rect x="384.6" y="408.2" width="3.7" height="2.1" rx="0.7"/><rect x="196.3" y="401.8" width="2.0" height="2.2" rx="0.7"/><rect x="221.2" y="402.4" width="3.2" height="3.2" rx="1.1"/><rect x="394.6" y="404.3" width="3.9" height="1.9" rx="0.7"/><rect x="207.8" y="404.6" width="3.0" height="2.7" rx="0.9"/><rect x="317.5" y="409.7" width="2.2" height="3.1" rx="0.8"/><rect x="284.9" y="411.0" width="2.1" height="2.9" rx="0.7"/><rect x="247.9" y="411.3" width="4.0" height="2.7" rx="0.9"/><rect x="264.3" y="401.1" width="2.5" height="3.0" rx="0.9"/><rect x="226.3" y="408.9" width="3.5" height="2.7" rx="0.9"/><rect x="233.4" y="402.7" width="2.2" height="3.2" rx="0.8"/><rect x="297.8" y="408.8" width="3.4" height="2.0" rx="0.7"/><rect x="196.6" y="401.2" width="4.1" height="1.8" rx="0.6"/><rect x="482.3" y="405.4" width="3.8" height="1.8" rx="0.6"/><rect x="426.6" y="404.0" width="2.9" height="2.4" rx="0.9"/><rect x="211.4" y="404.0" width="4.0" height="2.1" rx="0.7"/><rect x="297.1" y="410.2" width="2.6" height="1.9" rx="0.7"/><rect x="245.6" y="405.6" width="2.9" height="2.6" rx="0.9"/><rect x="326.0" y="411.4" width="2.1" height="2.7" rx="0.7"/><rect x="442.0" y="403.8" width="2.1" height="2.3" rx="0.7"/><rect x="212.8" y="406.5" width="3.8" height="1.7" rx="0.6"/><rect x="213.5" y="406.8" width="2.4" height="2.0" rx="0.7"/><rect x="316.0" y="402.4" width="2.2" height="2.2" rx="0.8"/><rect x="325.2" y="412.2" width="3.4" height="1.7" rx="0.6"/><rect x="246.7" y="409.9" width="3.4" height="3.0" rx="1.0"/><rect x="482.1" y="411.3" width="2.3" height="3.1" rx="0.8"/><rect x="342.9" y="403.9" width="2.4" height="3.0" rx="0.8"/><rect x="243.5" y="402.0" width="2.7" height="3.1" rx="0.9"/><rect x="322.6" y="409.8" width="2.2" height="2.3" rx="0.8"/><rect x="277.1" y="403.5" width="3.7" height="2.2" rx="0.8"/><rect x="214.1" y="412.8" width="3.2" height="1.9" rx="0.7"/><rect x="179.5" y="408.8" width="3.3" height="1.6" rx="0.6"/><rect x="325.6" y="409.9" width="3.3" height="2.0" rx="0.7"/><rect x="334.7" y="408.3" width="3.6" height="1.8" rx="0.6"/><rect x="431.6" y="412.3" width="3.9" height="3.0" rx="1.0"/><rect x="292.9" y="411.8" width="2.5" height="2.0" rx="0.7"/><rect x="366.2" y="411.8" width="2.2" height="1.9" rx="0.7"/><rect x="187.4" y="406.3" width="2.4" height="1.9" rx="0.7"/><rect x="414.2" y="408.0" width="4.3" height="2.2" rx="0.8"/><rect x="392.0" y="401.2" width="4.4" height="2.0" rx="0.7"/><rect x="327.7" y="407.1" width="4.4" height="2.4" rx="0.8"/><rect x="491.4" y="408.5" width="2.5" height="2.9" rx="0.9"/><rect x="240.2" y="413.0" width="3.1" height="2.0" rx="0.7"/><rect x="481.7" y="404.9" width="3.0" height="2.1" rx="0.8"/><rect x="388.6" y="401.3" width="2.9" height="1.9" rx="0.7"/><rect x="439.3" y="401.0" width="3.5" height="2.0" rx="0.7"/><rect x="320.4" y="407.7" width="3.8" height="1.8" rx="0.6"/><rect x="252.5" y="402.4" width="4.4" height="1.8" rx="0.6"/><rect x="219.6" y="407.3" width="3.5" height="3.0" rx="1.1"/><rect x="194.1" y="403.8" width="2.4" height="2.5" rx="0.8"/><rect x="319.9" y="405.9" width="4.2" height="2.7" rx="0.9"/><rect x="449.6" y="412.5" width="2.7" height="3.1" rx="0.9"/><rect x="305.7" y="401.6" width="4.3" height="1.8" rx="0.6"/><rect x="181.6" y="404.5" width="2.7" height="3.1" rx="1.0"/><rect x="452.8" y="406.0" width="3.3" height="3.0" rx="1.0"/><rect x="432.6" y="408.8" width="3.3" height="1.8" rx="0.6"/><rect x="253.5" y="408.9" width="3.5" height="2.9" rx="1.0"/><rect x="461.8" y="412.5" width="2.5" height="1.7" rx="0.6"/><rect x="461.4" y="407.8" width="2.5" height="2.7" rx="0.9"/><rect x="257.3" y="403.8" width="2.9" height="2.4" rx="0.9"/><rect x="391.4" y="401.9" width="3.9" height="2.6" rx="0.9"/><rect x="326.0" y="409.1" width="4.0" height="1.6" rx="0.6"/><rect x="327.2" y="409.1" width="3.8" height="2.6" rx="0.9"/><rect x="233.3" y="412.5" width="4.0" height="2.0" rx="0.7"/><rect x="312.9" y="412.5" width="2.5" height="2.3" rx="0.8"/><rect x="481.8" y="411.8" width="2.6" height="2.8" rx="0.9"/><rect x="290.4" y="409.0" width="3.9" height="1.8" rx="0.6"/><rect x="246.8" y="403.6" width="2.7" height="1.7" rx="0.6"/><rect x="219.2" y="405.9" width="3.1" height="1.7" rx="0.6"/><rect x="361.2" y="412.3" width="3.4" height="2.2" rx="0.8"/><rect x="400.0" y="406.2" width="2.4" height="2.4" rx="0.8"/><rect x="181.6" y="409.1" width="2.4" height="2.2" rx="0.8"/><rect x="482.1" y="410.2" width="4.1" height="2.6" rx="0.9"/><rect x="377.8" y="409.5" width="4.4" height="1.9" rx="0.7"/><rect x="419.6" y="404.6" width="2.6" height="2.9" rx="0.9"/><rect x="367.2" y="411.2" width="4.2" height="2.5" rx="0.9"/><rect x="239.1" y="401.2" width="3.3" height="2.8" rx="1.0"/><rect x="262.6" y="401.8" width="2.0" height="1.9" rx="0.7"/><rect x="397.3" y="401.0" width="2.6" height="2.0" rx="0.7"/><rect x="402.1" y="412.8" width="2.0" height="1.8" rx="0.6"/><rect x="473.2" y="412.6" width="2.4" height="2.1" rx="0.7"/><rect x="342.1" y="404.8" width="3.0" height="2.4" rx="0.8"/><rect x="258.2" y="401.7" width="2.2" height="1.9" rx="0.7"/><rect x="205.1" y="408.5" width="3.7" height="2.0" rx="0.7"/><rect x="427.8" y="409.7" width="2.9" height="2.4" rx="0.8"/><rect x="235.9" y="412.1" width="3.4" height="1.7" rx="0.6"/><rect x="224.9" y="409.3" width="3.0" height="2.7" rx="1.0"/><rect x="249.0" y="410.6" width="4.0" height="1.8" rx="0.6"/><rect x="362.4" y="403.3" width="3.8" height="2.9" rx="1.0"/><rect x="427.6" y="403.8" width="2.2" height="2.7" rx="0.8"/><rect x="355.7" y="402.7" width="2.5" height="2.5" rx="0.9"/><rect x="210.3" y="408.6" width="2.6" height="2.0" rx="0.7"/><rect x="310.7" y="407.4" width="3.8" height="1.6" rx="0.6"/><rect x="406.3" y="403.7" width="2.7" height="2.6" rx="0.9"/><rect x="395.8" y="408.4" width="4.3" height="1.9" rx="0.7"/><rect x="274.9" y="409.0" width="2.7" height="1.9" rx="0.6"/><rect x="248.0" y="410.3" width="4.1" height="2.7" rx="1.0"/><rect x="480.9" y="410.5" width="2.8" height="2.1" rx="0.7"/><rect x="405.3" y="401.7" width="3.5" height="1.7" rx="0.6"/><rect x="191.6" y="407.2" width="2.4" height="3.1" rx="0.8"/><rect x="455.0" y="406.5" width="2.5" height="1.8" rx="0.6"/><rect x="337.2" y="407.3" width="2.9" height="2.7" rx="1.0"/><rect x="344.3" y="410.3" width="2.3" height="1.7" rx="0.6"/><rect x="299.1" y="406.8" width="2.6" height="2.7" rx="0.9"/><rect x="246.6" y="404.8" width="3.2" height="2.7" rx="1.0"/><rect x="421.0" y="405.5" width="3.1" height="3.1" rx="1.1"/><rect x="473.0" y="408.4" width="2.3" height="2.3" rx="0.8"/><rect x="378.5" y="404.3" width="2.1" height="3.2" rx="0.7"/><rect x="465.3" y="402.5" width="3.2" height="2.6" rx="0.9"/><rect x="271.4" y="401.8" width="3.9" height="2.8" rx="1.0"/></g></g><rect x="168" y="385" width="20" height="15" fill="#fff"/><g fill="#000"><rect x="177.6" y="387.9" width="2.1" height="1.6" rx="0.6"/><rect x="185.5" y="387.6" width="1.9" height="2.3" rx="0.7"/><rect x="173.0" y="388.2" width="1.6" height="1.7" rx="0.6"/><rect x="179.0" y="396.2" width="1.8" height="1.7" rx="0.6"/><rect x="182.5" y="391.7" width="2.0" height="1.6" rx="0.6"/><rect x="174.6" y="397.7" width="1.7" height="1.8" rx="0.6"/><rect x="182.1" y="396.8" width="2.9" height="2.0" rx="0.7"/></g><rect x="479" y="385" width="16" height="15" fill="#fff"/><g fill="#000"><rect x="493.4" y="393.6" width="1.9" height="2.0" rx="0.7"/><rect x="490.3" y="395.1" width="1.7" height="1.7" rx="0.6"/><rect x="493.5" y="388.2" width="2.7" height="1.8" rx="0.6"/><rect x="484.2" y="389.8" width="2.2" height="2.5" rx="0.8"/><rect x="482.9" y="396.4" width="2.0" height="1.7" rx="0.6"/><rect x="490.7" y="390.8" width="1.8" height="1.9" rx="0.6"/></g><g stroke="#000" stroke-width="2.4"><line x1="168" y1="384.2" x2="492" y2="384.2"/><line x1="168" y1="400.5" x2="492" y2="400.5"/><line x1="188" y1="384" x2="188" y2="400"/><line x1="479" y1="384" x2="479" y2="400"/></g><path d="M332.8 138V156.6M332.8 161.7V178.8M332.8 181.6V233.6M332.8 237V291.8M332.8 294.7V343.3M332.8 346V363.8M332.8 366.6V370.6M332.8 373.5V421M332.8 423.2V439.7" stroke="#000" stroke-width="2.3" fill="none"/><g fill="none" stroke="#000" stroke-width="2.3"><path d="M70 86.8 L189.5 86.8 L265 178"/><path d="M69 127.5 L180 127.5 L244 211"/><path d="M56.5 206.5 L152 206.5 L222.5 236"/><path d="M60.7 314 L222 313.5 L309 261"/><path d="M52.8 466.3 L197.7 466.3 L287.5 362.5"/><path d="M520 94.3 L430 94.3 L360.5 143"/><path d="M430 94.3 L384 166"/><path d="M590 201.7 L517 201.7 L424 257.5"/><path d="M643.5 320.5 L450 320.5"/><path d="M637.4 386.7 L522 386.7 L442.5 353.8"/><path d="M574 449.6 L435.4 449.6 L406 397.5"/></g><g font-family="Liberation Sans, sans-serif" font-size="16" fill="#111" stroke="#111" stroke-width="0.35" opacity="0.995"><text x="46" y="80.6" textLength="154" lengthAdjust="spacingAndGlyphs">ПЛИТА ПЕРЕКРИТТЯ</text><text x="23.4" y="121" textLength="176.6" lengthAdjust="spacingAndGlyphs">ПАТРУБОК ВЕНТИЛЯЦІЇ</text><text x="72" y="179" textLength="78" lengthAdjust="spacingAndGlyphs">ПАТРУБОК</text><text x="34" y="201" textLength="116" lengthAdjust="spacingAndGlyphs">ВХОДУ ПОТОКУ</text><text x="14.3" y="309" textLength="145.7" lengthAdjust="spacingAndGlyphs">ЗОНА ЗБОРУ ЖИРУ</text><text x="25.6" y="438.3" textLength="162" lengthAdjust="spacingAndGlyphs">ЗОНА ЗБОРУ ШЛАМУ</text><text x="47" y="459.4" textLength="141.5" lengthAdjust="spacingAndGlyphs">(ВАЖКИХ ЧАСТОК)</text><text x="427.5" y="89.8" textLength="137.5" lengthAdjust="spacingAndGlyphs">ЛЮК З ОСНОВОЮ</text><text x="518" y="172.8" textLength="79" lengthAdjust="spacingAndGlyphs">ПАТРУБОК</text><text x="518" y="194.7" textLength="156.8" lengthAdjust="spacingAndGlyphs">ВИХІДНОГО ПОТОКУ</text><text x="509.8" y="315" textLength="126.7" lengthAdjust="spacingAndGlyphs">БЕТОННІ КІЛЬЦЯ</text><text x="522.8" y="337" textLength="74.2" lengthAdjust="spacingAndGlyphs">ОБСИПКА</text><text x="522.8" y="358.4" textLength="141.1" lengthAdjust="spacingAndGlyphs">МОКРИМ ПІСКОМ</text><text x="522.8" y="381.2" textLength="133.8" lengthAdjust="spacingAndGlyphs">АБО ГАРЦОВКОЮ</text><text x="443" y="442.8" textLength="199" lengthAdjust="spacingAndGlyphs">БЕТОННА ПЛИТА-ОСНОВА</text></g></svg></body></html>
